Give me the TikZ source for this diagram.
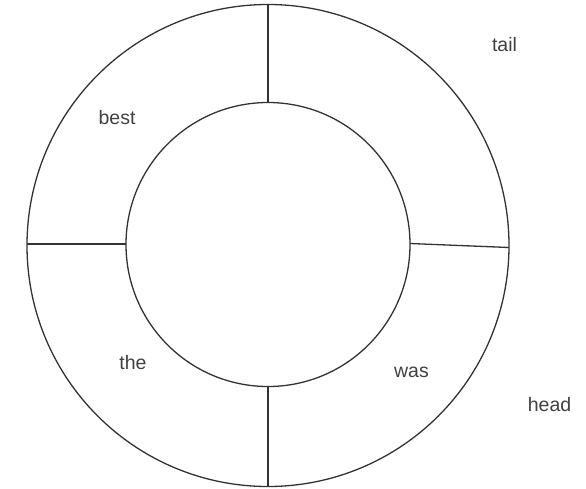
\documentclass[tikz,border=0pt]{standalone}
\usepackage{fontspec}
\setmainfont{Liberation Sans}
\begin{document}
\begin{tikzpicture}[x=1pt,y=-1pt,
  ring/.style={draw=black!80,line width=1.3pt},
  lbl/.style={anchor=base,inner sep=0pt,text=black!75,font=\fontsize{19.5}{22}\selectfont}]
\useasboundingbox (0,0) rectangle (586,488);
\coordinate (oc) at (268,245.5);
\coordinate (ic) at (268,244.5);
\draw[ring] (oc) circle[radius=241];
\draw[ring] (ic) circle[radius=142];
\coordinate (t1) at (268,4.5);
\coordinate (t2) at (268,102.5);
\coordinate (b1) at (268,386.5);
\coordinate (b2) at (268,486.5);
\coordinate (l1) at (27,244);
\coordinate (l2) at (126,244);
\coordinate (r1) at (410,243.5);
\coordinate (r2) at (509,247.5);
\draw[ring] (t1) -- (t2);
\draw[ring] (b1) -- (b2);
\draw[ring] (l1) -- (l2);
\draw[ring] (r1) -- (r2);
\node[lbl] (tail) at (504.5,51) {tail};
\node[lbl] (best) at (117,124) {best};
\node[lbl] (the) at (133,369) {the};
\node[lbl] (was) at (411.5,377) {was};
\node[lbl] (head) at (549.5,411) {head};
\end{tikzpicture}
\end{document}
